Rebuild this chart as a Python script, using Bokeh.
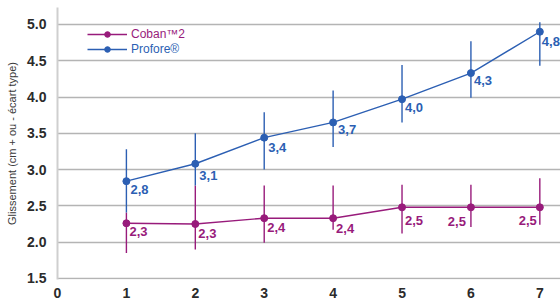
from bokeh.plotting import figure
from bokeh.models import (ColumnDataSource, FixedTicker, NumeralTickFormatter,
                          Range1d, Legend, LegendItem)
from bokeh.core.properties import value
from bokeh.embed import file_html
from bokeh.resources import INLINE

# ---- data ----
days = [1, 2, 3, 4, 5, 6, 7]
profore = [2.84, 3.08, 3.44, 3.65, 3.97, 4.33, 4.90]
profore_lo = [2.41, 2.78, 3.00, 3.31, 3.65, 3.99, 4.43]
profore_hi = [3.28, 3.50, 3.79, 4.09, 4.44, 4.77, 5.03]
profore_labels = ["2,8", "3,1", "3,4", "3,7", "4,0", "4,3", "4,8"]

coban = [2.26, 2.25, 2.33, 2.33, 2.48, 2.48, 2.48]
coban_lo = [1.85, 1.90, 1.99, 2.17, 2.12, 2.21, 2.24]
coban_hi = [2.41, 2.78, 2.78, 2.78, 2.79, 2.79, 2.88]
coban_labels = ["2,3", "2,3", "2,4", "2,4", "2,5", "2,5", "2,5"]

y_ticks = [1.5, 2.0, 2.5, 3.0, 3.5, 4.0, 4.5, 5.0]
x_ticks = [0, 1, 2, 3, 4, 5, 6, 7]

# ---- label styling (not data) ----
profore_dx = [4, 4, 4, 5, 3, 3, 2]
profore_dy = [4, 7, 5, 3, 4, 3, 5]
profore_align = ["left"] * 7
coban_dx = [3, 3, 3, 3, 3, -5, -3]
coban_dy = [4, 5, 5, 6, 9, 10, 9]
coban_align = ["left"] * 5 + ["right"] * 2

PINK = "#981b7b"
BLUE = "#2c5fb3"
FONT = "Liberation Sans"

W, H = 560, 301
B_TOP, B_BOTTOM, B_LEFT = 7, 22, 57

p = figure(width=W, height=H, output_backend="svg", toolbar_location=None,
           x_range=Range1d(0, 7.3), y_range=Range1d(1.485, 5.234),
           min_border_left=B_LEFT, min_border_right=0, min_border_top=B_TOP,
           min_border_bottom=B_BOTTOM)
p.outline_line_color = None
p.background_fill_color = "white"
p.border_fill_color = "white"

# axes
p.yaxis.ticker = FixedTicker(ticks=y_ticks)
p.yaxis.formatter = NumeralTickFormatter(format="0.0")
p.xaxis.ticker = FixedTicker(ticks=x_ticks)
for ax in (p.xaxis, p.yaxis):
    ax.major_tick_line_color = None
    ax.minor_tick_line_color = None
    ax.major_label_text_font = FONT
    ax.major_label_text_font_style = "bold"
    ax.major_label_text_font_size = "14px"
    ax.major_label_text_color = "#2b2b2b"
p.xaxis.axis_line_color = None
p.xaxis.major_label_standoff = 2
p.yaxis.axis_line_color = "#cfcfcf"
p.yaxis.axis_line_width = 2
p.yaxis.major_label_standoff = 5
p.yaxis.axis_label = "Glissement (cm + ou - écart type)"
p.yaxis.axis_label_text_font = FONT
p.yaxis.axis_label_text_font_style = "normal"
p.yaxis.axis_label_text_font_size = "11px"
p.yaxis.axis_label_text_color = "#3a3a3a"
p.yaxis.axis_label_standoff = 6

p.xgrid.grid_line_color = None
p.ygrid.grid_line_color = "#b4b4b4"
p.ygrid.grid_line_width = 1.6

src_c = ColumnDataSource(dict(x=days, y=coban, lo=coban_lo, hi=coban_hi,
                              t=coban_labels, dx=coban_dx, dy=coban_dy,
                              al=coban_align))
src_p = ColumnDataSource(dict(x=days, y=profore, lo=profore_lo, hi=profore_hi,
                              t=profore_labels, dx=profore_dx, dy=profore_dy,
                              al=profore_align))

# Coban
p.segment(x0="x", y0="lo", x1="x", y1="hi", source=src_c, line_color=PINK, line_width=1.4)
lc = p.line("x", "y", source=src_c, line_color=PINK, line_width=1.4)
sc = p.scatter("x", "y", source=src_c, size=7, fill_color=PINK, line_color=PINK)
p.text("x", "y", text="t", source=src_c, x_offset="dx", y_offset="dy",
       text_align="al", text_baseline="top", text_color=PINK,
       text_font_size="13px", text_font_style="bold", text_font=value(FONT))

# Profore
p.segment(x0="x", y0="lo", x1="x", y1="hi", source=src_p, line_color=BLUE, line_width=1.4)
lp = p.line("x", "y", source=src_p, line_color=BLUE, line_width=1.4)
sp = p.scatter("x", "y", source=src_p, size=7, fill_color=BLUE, line_color=BLUE)
p.text("x", "y", text="t", source=src_p, x_offset="dx", y_offset="dy",
       text_align="al", text_baseline="top", text_color=BLUE,
       text_font_size="13px", text_font_style="bold", text_font=value(FONT))

# legends (two, for per-item text colour)
frame_h = H - B_TOP - B_BOTTOM


def make_legend(label, rends, color, center_from_top):
    lg = Legend(items=[LegendItem(label=label, renderers=rends)],
                location=(30, frame_h - center_from_top - 7),
                padding=0, margin=0, spacing=0,
                glyph_width=40, glyph_height=14, label_height=14,
                label_standoff=4, background_fill_alpha=0,
                border_line_color=None,
                label_text_font=FONT, label_text_font_size="12px",
                label_text_color=color)
    p.add_layout(lg, "center")


make_legend("Coban\u21222", [lc, sc], PINK, 27)
make_legend("Profore\u00ae", [lp, sp], BLUE, 42)

open("out.html", "w").write(file_html(p, INLINE))
